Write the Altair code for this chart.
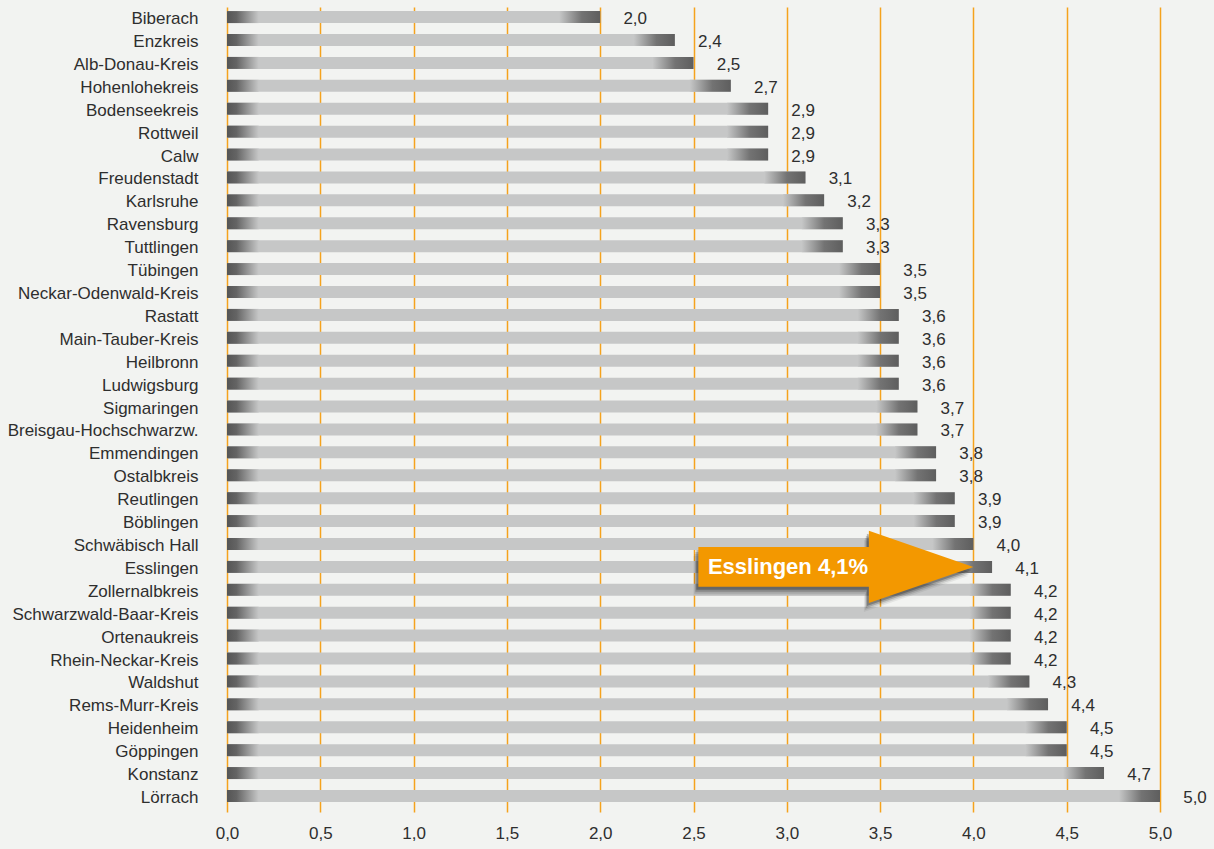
import altair as alt
import pandas as pd

districts = [
    "Biberach", "Enzkreis", "Alb-Donau-Kreis", "Hohenlohekreis", "Bodenseekreis",
    "Rottweil", "Calw", "Freudenstadt", "Karlsruhe", "Ravensburg", "Tuttlingen",
    "Tübingen", "Neckar-Odenwald-Kreis", "Rastatt", "Main-Tauber-Kreis", "Heilbronn",
    "Ludwigsburg", "Sigmaringen", "Breisgau-Hochschwarzw.", "Emmendingen",
    "Ostalbkreis", "Reutlingen", "Böblingen", "Schwäbisch Hall", "Esslingen",
    "Zollernalbkreis", "Schwarzwald-Baar-Kreis", "Ortenaukreis", "Rhein-Neckar-Kreis",
    "Waldshut", "Rems-Murr-Kreis", "Heidenheim", "Göppingen", "Konstanz", "Lörrach",
]
rates = [
    2.0, 2.4, 2.5, 2.7, 2.9, 2.9, 2.9, 3.1, 3.2, 3.3, 3.3, 3.5, 3.5, 3.6, 3.6, 3.6,
    3.6, 3.7, 3.7, 3.8, 3.8, 3.9, 3.9, 4.0, 4.1, 4.2, 4.2, 4.2, 4.2, 4.3, 4.4, 4.5,
    4.5, 4.7, 5.0,
]
x_ticks = [0, 0.5, 1.0, 1.5, 2.0, 2.5, 3.0, 3.5, 4.0, 4.5, 5.0]
highlight = "Esslingen"

df = pd.DataFrame({"district": districts, "rate": rates})
df["label"] = df["rate"].map(lambda v: f"{v:.1f}".replace(".", ","))

FONT = "Liberation Sans"
TXT = "#2e2e2e"
LIGHT = "#c6c7c7"
ORANGE = "#f39800"
W, H = 933, 805

x_scale = alt.Scale(domain=[0, 5], nice=False, zero=True)
y_enc = alt.Y(
    "district:N",
    sort=districts,
    scale=alt.Scale(paddingInner=0.476, paddingOuter=0.308, align=0.29),
    axis=alt.Axis(title=None, domain=False, ticks=False, tickSize=0, grid=False,
                  labelFont=FONT, labelFontSize=17, labelColor=TXT,
                  labelPadding=29, labelOffset=2, labelLimit=300),
)
x_axis = alt.Axis(title=None, domain=False, ticks=False, tickSize=0, grid=True,
                  gridColor="#f5a21d", gridWidth=1.5, values=x_ticks,
                  labelFlush=False, labelAlign="center",
                  labelFont=FONT, labelFontSize=17, labelColor=TXT, labelPadding=13,
                  labelExpr="replace(format(datum.value, '.1f'), '.', ',')")

base = alt.Chart(df)

bars = base.mark_bar(color=LIGHT).encode(
    x=alt.X("rate:Q", scale=x_scale, axis=x_axis), y=y_enc
)

left_grad = alt.Gradient(
    gradient="linear", x1=0, x2=1, y1=0, y2=0,
    stops=[alt.GradientStop(color="#555555", offset=0),
           alt.GradientStop(color="#646464", offset=0.3),
           alt.GradientStop(color=LIGHT, offset=1)],
)
right_grad = alt.Gradient(
    gradient="linear", x1=0, x2=1, y1=0, y2=0,
    stops=[alt.GradientStop(color=LIGHT, offset=0),
           alt.GradientStop(color="#737373", offset=0.55),
           alt.GradientStop(color="#5e5e5e", offset=1)],
)

left_end = base.mark_bar(color=left_grad).transform_calculate(
    s="0", e="0.17"
).encode(x=alt.X("s:Q", scale=x_scale), x2="e:Q", y=y_enc)

right_end = base.mark_bar(color=right_grad).transform_calculate(
    s="datum.rate - 0.22"
).encode(x=alt.X("s:Q", scale=x_scale), x2="rate:Q", y=y_enc)

labels = base.mark_text(align="center", baseline="middle", dx=35, dy=2,
                        font=FONT, fontSize=17, color=TXT).encode(
    x=alt.X("rate:Q", scale=x_scale), y=y_enc, text="label:N"
)

arrow_path = ("M -1 -0.145 L 0.24 -0.145 L 0.24 -0.262 L 1 0 "
              "L 0.24 0.262 L 0.24 0.145 L -1 0.145 Z")

hl = base.transform_filter(alt.datum.district == highlight).transform_calculate(
    cx="datum.rate - 0.837",
    ann="datum.district + ' ' + datum.label + '%'",
)

shadows = []
for xo, yo, op in [(-2, 3, 0.25), (-3, 5, 0.18), (-4, 7, 0.1), (-5, 9, 0.06)]:
    shadows.append(
        hl.mark_point(shape=arrow_path, size=75625, filled=True, fill="#000000",
                      opacity=op, strokeOpacity=0, xOffset=xo, yOffset=yo).encode(
            x=alt.X("cx:Q", scale=x_scale), y=y_enc)
    )

arrow = hl.mark_point(shape=arrow_path, size=75625, filled=True, fill=ORANGE,
                      opacity=1, strokeOpacity=0).encode(
    x=alt.X("cx:Q", scale=x_scale), y=y_enc)

arrow_text = hl.mark_text(align="left", baseline="middle", dx=-128, dy=0,
                          font=FONT, fontSize=22, fontWeight="bold",
                          color="#ffffff").encode(
    x=alt.X("cx:Q", scale=x_scale), y=y_enc, text="ann:N")

chart = alt.layer(
    bars, left_end, right_end, labels, *shadows, arrow, arrow_text
).properties(
    width=W, height=H,
    background="#f2f3f1",
    padding={"left": 227, "top": 7, "right": 54, "bottom": 37},
    autosize=alt.AutoSizeParams(type="none"),
).configure_view(stroke=None)

chart.save("out.html", embed_options={"renderer": "svg", "actions": False})
